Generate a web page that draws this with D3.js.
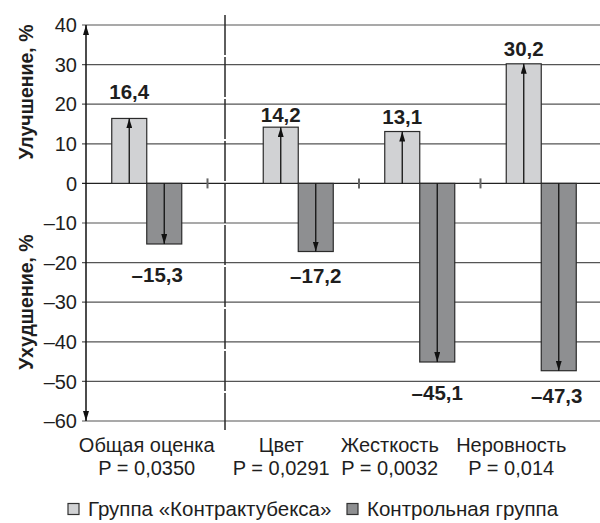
<!DOCTYPE html>
<html>
<head>
<meta charset="utf-8">
<script src="https://cdn.jsdelivr.net/npm/d3@7"></script>
<style>
  html, body { margin: 0; padding: 0; background: #fff; }
  svg { display: block; font-family: "Liberation Sans", Arial, Helvetica, sans-serif; }
</style>
</head>
<body>
<svg id="chart" width="600" height="523"></svg>
<script>
const categories = ["Общая оценка", "Цвет", "Жесткость", "Неровность"];
const pValues = ["P = 0,0350", "P = 0,0291", "P = 0,0032", "P = 0,014"];
const seriesNames = ["Группа «Контрактубекса»", "Контрольная группа"];
const improvement = [16.4, 14.2, 13.1, 30.2];
const worsening = [-15.3, -17.2, -45.1, -47.3];
const yTicks = [40, 30, 20, 10, 0, -10, -20, -30, -40, -50, -60];

// layout-only nudges
const posLabelDy = [-19, -5, -8, -8];
const negLabelDy = [38, 31, 38, 32];
const negLabelDx = [-7, 0, 0, -2];
const catLabelDx = [0, -17, -30, -30];

const colors = ["#d1d2d4", "#8e8f91"];
const strokeCol = "#2b2b2b";
const textCol = "#1e1e1e";

const svg = d3.select("#chart");
const axisX = 86, bandW = 121.5, gap = 30;

const y = d3.scaleLinear().domain([-60, 40]).range([421, 25]);
const x0 = d3.scaleBand().domain(categories).range([0, bandW * categories.length]);
const groupX = (c, i) => axisX + x0(c) + (i > 0 ? gap : 0);
const x1 = d3.scaleBand().domain(seriesNames).range([bandW / 2 - 35, bandW / 2 + 35]);

const fmt = v => (v < 0 ? "\u2013" : "") + String(Math.abs(v)).replace(".", ",");

const defs = svg.append("defs");
defs.append("marker").attr("id", "arr")
  .attr("markerUnits", "userSpaceOnUse")
  .attr("viewBox", "0 0 10 6").attr("refX", 10).attr("refY", 3)
  .attr("markerWidth", 10).attr("markerHeight", 6)
  .attr("orient", "auto-start-reverse")
  .append("path").attr("d", "M0,0 L10,3 L0,6 Z").attr("fill", "#111");

// gridlines
svg.append("g").selectAll("line").data(yTicks).join("line")
  .attr("x1", axisX - 4).attr("x2", 600)
  .attr("y1", d => y(d)).attr("y2", d => y(d))
  .attr("stroke", d => d === 0 ? "#222" : "#555")
  .attr("stroke-width", d => d === 0 ? 1.4 : 1.2);

// tick labels
svg.append("g").selectAll("text").data(yTicks).join("text")
  .attr("x", axisX - 9).attr("y", d => y(d))
  .attr("dy", "0.36em")
  .attr("text-anchor", "end")
  .attr("font-size", 20)
  .attr("fill", textCol)
  .text(d => d < 0 ? "\u2013" + Math.abs(d) : d);

// vertical dashed separator
svg.append("line")
  .attr("x1", 225).attr("x2", 225).attr("y1", 15).attr("y2", 430)
  .attr("stroke", "#2a2a2a").attr("stroke-width", 1.5)
  .attr("stroke-dasharray", "40,2");

// small ticks on zero line between groups
svg.append("g").selectAll("line").data(categories.slice(0, 3)).join("line")
  .attr("x1", (c, i) => groupX(c, i) + bandW).attr("x2", (c, i) => groupX(c, i) + bandW)
  .attr("y1", y(0) - 5).attr("y2", y(0) + 5)
  .attr("stroke", "#666").attr("stroke-width", 2);

// bars
const series = [improvement, worsening];
series.forEach((vals, s) => {
  const g = svg.append("g");
  g.selectAll("rect").data(categories).join("rect")
    .attr("x", (c, i) => groupX(c, i) + x1(seriesNames[s]))
    .attr("width", x1.bandwidth())
    .attr("y", (c, i) => Math.min(y(0), y(vals[i])))
    .attr("height", (c, i) => Math.abs(y(vals[i]) - y(0)))
    .attr("fill", colors[s]).attr("stroke", strokeCol).attr("stroke-width", 1.2);
  g.selectAll("line").data(categories).join("line")
    .attr("x1", (c, i) => groupX(c, i) + x1(seriesNames[s]) + x1.bandwidth() / 2)
    .attr("x2", (c, i) => groupX(c, i) + x1(seriesNames[s]) + x1.bandwidth() / 2)
    .attr("y1", y(0)).attr("y2", (c, i) => y(vals[i]))
    .attr("stroke", "#111").attr("stroke-width", 1.3)
    .attr("marker-end", "url(#arr)");
  g.selectAll("text").data(categories).join("text")
    .attr("x", (c, i) => groupX(c, i) + x1(seriesNames[s]) + x1.bandwidth() / 2 + (s ? negLabelDx[i] : 0))
    .attr("y", (c, i) => y(vals[i]) + (s ? negLabelDy[i] : posLabelDy[i]))
    .attr("text-anchor", "middle")
    .attr("font-size", 20.5).attr("font-weight", "bold")
    .attr("fill", textCol)
    .text((c, i) => fmt(vals[i]));
});

// y axis with arrows
svg.append("line")
  .attr("x1", axisX).attr("x2", axisX)
  .attr("y1", y(-60)).attr("y2", y(40))
  .attr("stroke", "#111").attr("stroke-width", 1.5)
  .attr("marker-start", "url(#arr)").attr("marker-end", "url(#arr)");

// axis titles
[["Улучшение, %", 92], ["Ухудшение, %", 302]].forEach(([t, cy]) => {
  svg.append("text")
    .attr("transform", `translate(33,${cy}) rotate(-90)`)
    .attr("text-anchor", "middle")
    .attr("font-size", 19.5).attr("font-weight", "bold")
    .attr("fill", textCol)
    .text(t);
});

// category labels
const cat = svg.append("g");
cat.selectAll("text.c").data(categories).join("text").attr("class", "c")
  .attr("x", (c, i) => groupX(c, i) + bandW / 2 + catLabelDx[i])
  .attr("y", 452).attr("text-anchor", "middle")
  .attr("font-size", 20).attr("fill", textCol).text(c => c);
cat.selectAll("text.p").data(pValues).join("text").attr("class", "p")
  .attr("x", (p, i) => groupX(categories[i], i) + bandW / 2 + catLabelDx[i])
  .attr("y", 475).attr("text-anchor", "middle")
  .attr("font-size", 20).attr("fill", textCol).text(p => p);

// legend
const legX = [68, 347];
const leg = svg.append("g");
seriesNames.forEach((n, s) => {
  leg.append("rect").attr("x", legX[s]).attr("y", 503.5).attr("width", 11).attr("height", 11)
    .attr("fill", colors[s]).attr("stroke", "#333").attr("stroke-width", 1.2);
  leg.append("text").attr("x", legX[s] + 20).attr("y", 516)
    .attr("font-size", 20.5).attr("fill", textCol).text(n);
});
</script>
</body>
</html>
